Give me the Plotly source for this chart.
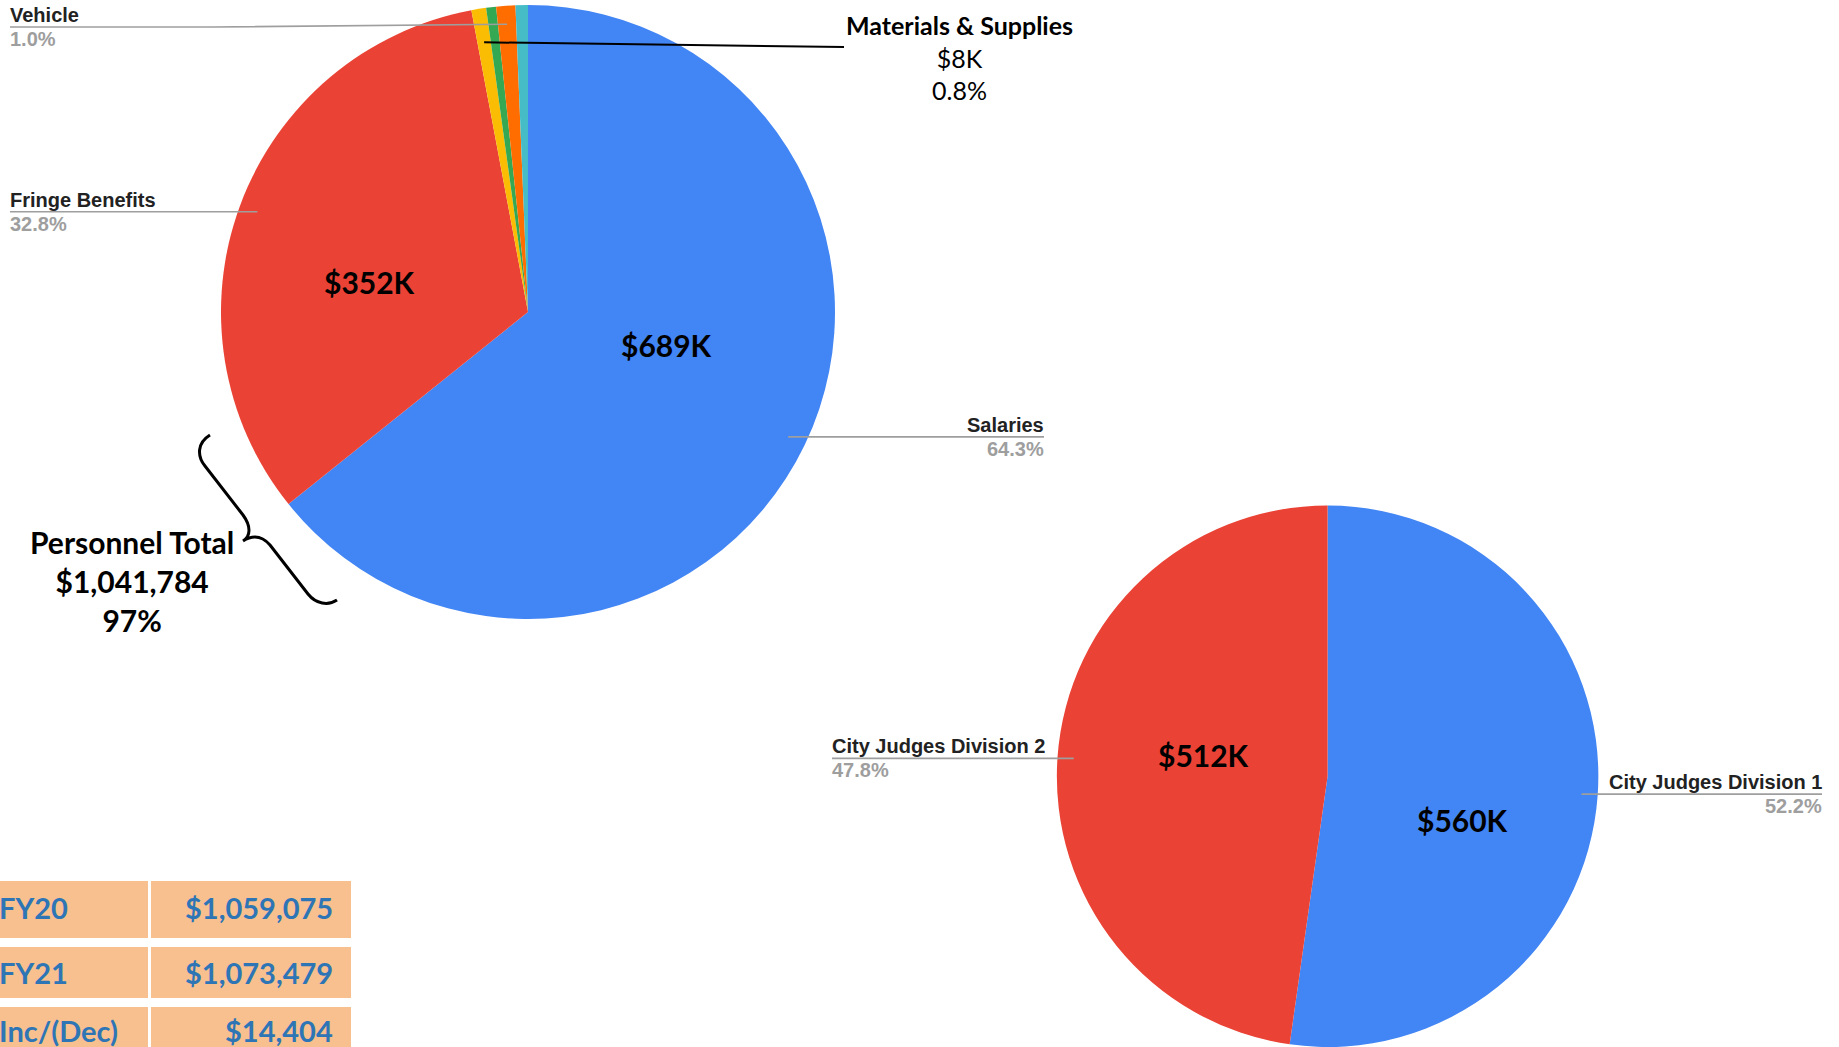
import math
import plotly.graph_objects as go

# ---------------- data ----------------
expense_categories = ["Salaries", "Fringe Benefits", "Materials & Supplies",
                      "Other Operating", "Vehicle", "Other Charges"]
expense_values = [689600, 352184, 8300, 5600, 10800, 6995]
expense_value_labels = ["$689K", "$352K", "", "", "", ""]
expense_pct_labels = ["64.3%", "32.8%", "0.8%", "0.5%", "1.0%", "0.6%"]
expense_colors = ["#4285F4", "#EA4335", "#FBBC04", "#34A853", "#FF6D01", "#46BDC6"]

division_categories = ["City Judges Division 1", "City Judges Division 2"]
division_values = [560400, 512400]
division_value_labels = ["$560K", "$512K"]
division_pct_labels = ["52.2%", "47.8%"]
division_colors = ["#4285F4", "#EA4335"]

materials_value_label = "$8K"

table_row_labels = ["FY20", "FY21", "Inc/(Dec)"]
budget_totals = [1059075, 1073479]

# ---------------- layout constants ----------------
W, H = 1839, 1047
BOX1 = (221, 5, 835, 619)          # pixel box of pie 1 (x0, y0, x1, y1)
BOX2 = (1055.5, 505.5, 1599.7, 1047)
LABEL_FONT = "Liberation Sans, Arial, sans-serif"
BODY_FONT = "Lato, Open Sans, sans-serif"
GREY = "#9E9E9E"
# placement of the value labels inside the slices: (angle clockwise from top, radius fraction)
INSIDE_POS1 = [(103.3, 0.464), (280.9, 0.525)]
INSIDE_POS2 = [(107.8, 0.523), (279.6, 0.465)]


def domain(box):
    x0, y0, x1, y1 = box
    return dict(x=[x0 / W, x1 / W], y=[1 - y1 / H, 1 - y0 / H])


def geom(box):
    x0, y0, x1, y1 = box
    return (x0 + x1) / 2, (y0 + y1) / 2, min(x1 - x0, y1 - y0) / 2


def polar(box, ang_deg, frac):
    cx, cy, r = geom(box)
    th = math.radians(ang_deg)
    return cx + frac * r * math.sin(th), cy - frac * r * math.cos(th)


def slice_point(values, idx, box, frac):
    tot = sum(values)
    mid = (sum(values[:idx]) + values[idx] / 2) / tot
    return polar(box, 360 * mid, frac)


fig = go.Figure()

fig.add_trace(go.Pie(
    labels=expense_categories, values=expense_values, textinfo="none",
    marker=dict(colors=expense_colors, line=dict(width=0)),
    sort=False, direction="clockwise", rotation=0,
    domain=domain(BOX1), showlegend=False, hoverinfo="label+value+percent",
))
fig.add_trace(go.Pie(
    labels=division_categories, values=division_values, textinfo="none",
    marker=dict(colors=division_colors, line=dict(width=0)),
    sort=False, direction="clockwise", rotation=0,
    domain=domain(BOX2), showlegend=False, hoverinfo="label+value+percent",
))

shapes = []
annotations = []
dot_x, dot_y = [], []

# value labels inside slices
for box, labels, positions in [(BOX1, expense_value_labels, INSIDE_POS1),
                               (BOX2, division_value_labels, INSIDE_POS2)]:
    for lab, (ang, fr) in zip(labels, positions):
        if not lab:
            continue
        x, y = polar(box, ang, fr)
        annotations.append(dict(x=x, y=y, xref="x", yref="y", text=lab, showarrow=False,
                                xanchor="center", yanchor="middle", borderpad=0,
                                font=dict(family=BODY_FONT, size=30, color="black",
                                          weight="bold")))

# callouts: (values, names, pcts, box, slice index, anchor, text_x, line_y override, knee_x)
callouts = [
    (expense_values, expense_categories, expense_pct_labels, BOX1, 4, "left", 10, 27, 214),
    (expense_values, expense_categories, expense_pct_labels, BOX1, 1, "left", 10, None, None),
    (expense_values, expense_categories, expense_pct_labels, BOX1, 0, "right", 1044, None, None),
    (division_values, division_categories, division_pct_labels, BOX2, 1, "left", 832, None, None),
    (division_values, division_categories, division_pct_labels, BOX2, 0, "right", 1822, None, None),
]
for vals, names, pcts, box, i, anchor, tx, ly, knee in callouts:
    px, py = slice_point(vals, i, box, 0.94)
    dot_x.append(px)
    dot_y.append(py)
    line_y = py if ly is None else ly
    if knee is not None:
        path = f"M {tx},{line_y} L {knee},{line_y} L {px},{py}"
    else:
        path = f"M {tx},{line_y} L {px},{py}"
    shapes.append(dict(type="path", path=path, xref="x", yref="y",
                       line=dict(color=GREY, width=1.6)))
    annotations.append(dict(x=tx, y=line_y - 1, xref="x", yref="y", text=names[i],
                            xanchor=anchor, yanchor="bottom", showarrow=False,
                            borderpad=0, borderwidth=0,
                            font=dict(family=LABEL_FONT, size=20, color="#222222", weight="bold")))
    annotations.append(dict(x=tx, y=line_y + 1, xref="x", yref="y", text=pcts[i],
                            xanchor=anchor, yanchor="top", showarrow=False,
                            borderpad=0, borderwidth=0,
                            font=dict(family=LABEL_FONT, size=20, color=GREY, weight="bold")))

fig.add_trace(go.Scatter(x=dot_x, y=dot_y, mode="markers",
                         marker=dict(size=6, color=GREY), hoverinfo="skip",
                         showlegend=False))

# Materials & Supplies callout
mx, my = slice_point(expense_values, 2, BOX1, 0.89)
shapes.append(dict(type="line", x0=mx, y0=my, x1=844, y1=47, xref="x", yref="y",
                   line=dict(color="black", width=2)))
annotations.append(dict(
    x=959, y=57, xref="x", yref="y", xanchor="center", yanchor="middle", showarrow=False,
    text=f"<b>{expense_categories[2]}</b><br>{materials_value_label}<br>{expense_pct_labels[2]}",
    font=dict(family=BODY_FONT, size=25, color="black"), borderpad=0))

# Personnel total with brace
personnel = expense_values[0] + expense_values[1]
personnel_pct = round(100 * personnel / budget_totals[1])
shapes.append(dict(type="path", xref="x", yref="y",
                   path=("M 210,435 C 197,443 197,456 205,466 L 243,515 "
                         "C 251,526 251,536 243,541 C 254,534 263,537 270,545 "
                         "L 308,594 C 316,604 328,606 337,600"),
                   line=dict(color="black", width=3)))
annotations.append(dict(
    x=132, y=581, xref="x", yref="y", xanchor="center", yanchor="middle", showarrow=False,
    text=f"Personnel Total<br>${personnel:,}<br>{personnel_pct}%",
    font=dict(family=BODY_FONT, size=30, color="black", weight="bold"), borderpad=0))

# Budget table
table_values = [f"${budget_totals[0]:,}", f"${budget_totals[1]:,}",
                f"${budget_totals[1] - budget_totals[0]:,}"]
row_y = [(881, 938), (947, 998), (1007, 1070)]
row_text_y = [907, 972, 1030]
for (y0, y1), ty, lab, val in zip(row_y, row_text_y, table_row_labels, table_values):
    shapes.append(dict(type="rect", xref="x", yref="y", x0=-20, x1=148, y0=y0, y1=y1,
                       fillcolor="#F8BF8F", line=dict(width=0), layer="below"))
    shapes.append(dict(type="rect", xref="x", yref="y", x0=151, x1=351, y0=y0, y1=y1,
                       fillcolor="#F8BF8F", line=dict(width=0), layer="below"))
    annotations.append(dict(x=-2 / W, y=1 - ty / H, xref="paper", yref="paper", text=lab,
                            xanchor="left", yanchor="middle", showarrow=False, borderpad=0,
                            font=dict(family=BODY_FONT, size=29, color="#2E75B6", weight="bold")))
    annotations.append(dict(x=334 / W, y=1 - ty / H, xref="paper", yref="paper", text=val,
                            xanchor="right", yanchor="middle", showarrow=False, borderpad=0,
                            font=dict(family=BODY_FONT, size=29, color="#2E75B6", weight="bold")))

fig.update_layout(
    width=W, height=H, margin=dict(l=0, r=0, t=0, b=0),
    paper_bgcolor="white", plot_bgcolor="rgba(0,0,0,0)",
    xaxis=dict(range=[0, W], visible=False, domain=[0, 1], fixedrange=True),
    yaxis=dict(range=[H, 0], visible=False, domain=[0, 1], fixedrange=True),
    shapes=shapes, annotations=annotations, showlegend=False,
)

fig.write_html("out.html", config={"displayModeBar": False},
               post_script="document.body.style.margin='0px';document.body.style.overflow='hidden';")
